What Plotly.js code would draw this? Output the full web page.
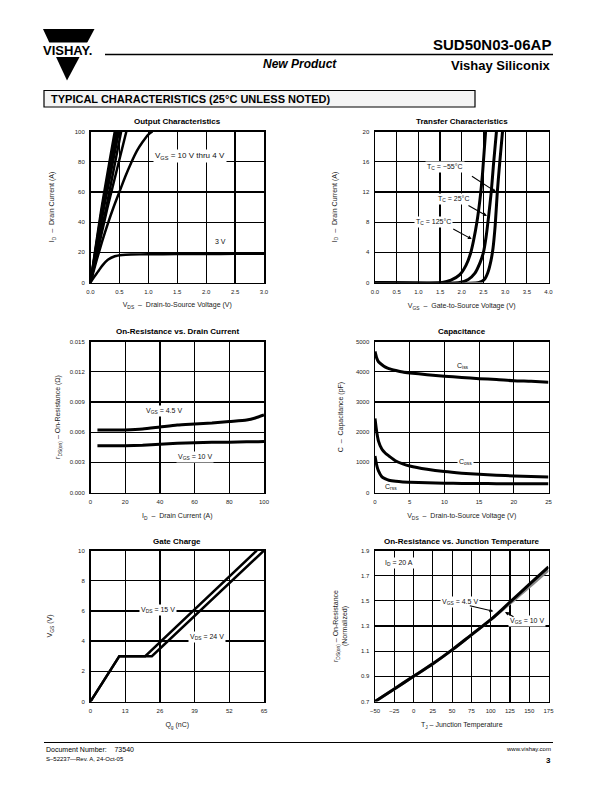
<!DOCTYPE html>
<html>
<head>
<meta charset="utf-8">
<script src="https://cdn.plot.ly/plotly-3.0.1.min.js"></script>
<style>html,body{margin:0;padding:0;background:#fff}#chart{width:612px;height:792px}</style>
</head>
<body>
<div id="chart"></div>
<script>
// ---------- Data ----------
// Output Characteristics
const vds10 = [0, 0.19, 0.42];             const id10 = [0, 49, 100];
const vds8  = [0, 0.20, 0.44];             const id8  = [0, 49, 100];
const vds7  = [0, 0.21, 0.46];             const id7  = [0, 49, 100];
const vds6  = [0, 0.23, 0.49];             const id6  = [0, 49, 100];
const vds5  = [0, 0.27, 0.53];             const id5  = [0, 49, 100];
const vds45 = [0, 0.29, 0.62];             const id45 = [0, 49, 100];
const vds4  = [0, 0.1, 0.2, 0.3, 0.4, 0.5, 0.6, 0.7, 0.8, 0.9, 1.0, 1.07];
const id4   = [0, 14, 27, 39, 50, 60, 70, 79, 87, 93, 98, 100];
const vds3  = [0, 0.05, 0.13, 0.2, 0.3, 0.42, 0.55, 0.7, 1.0, 1.5, 2.0, 2.5, 3.0];
const id3   = [0, 3, 7.2, 11, 15, 17.4, 18.2, 18.5, 18.7, 18.8, 18.9, 19.0, 19.1];

// Transfer Characteristics
const vgs125 = [0, 1.55, 1.75, 1.95, 2.1, 2.2, 2.27, 2.35, 2.42, 2.48, 2.55];
const idT125 = [0, 0, 0.3, 1.0, 2.3, 3.8, 5.5, 8, 11, 14.5, 20];
const vgs25  = [0, 1.95, 2.15, 2.3, 2.42, 2.5, 2.56, 2.62, 2.68, 2.73, 2.8];
const idT25  = [0, 0, 0.4, 1.2, 2.6, 4, 6, 8.8, 12, 15.5, 20];
const vgsM55 = [0, 2.4, 2.52, 2.6, 2.67, 2.72, 2.77, 2.82, 2.87, 2.94];
const idTM55 = [0, 0, 0.4, 1.3, 2.8, 4.5, 7.5, 12, 15.5, 20];

// On-Resistance vs. Drain Current
const idR    = [4, 10, 20, 30, 40, 50, 60, 70, 80, 90, 95, 100];
const rds45  = [0.0062, 0.0062, 0.00622, 0.0063, 0.0065, 0.0067, 0.0068, 0.0069, 0.00705, 0.0072, 0.0074, 0.0077];
const rds10  = [0.00465, 0.00465, 0.00465, 0.0047, 0.0048, 0.0049, 0.00495, 0.005, 0.005, 0.00505, 0.00505, 0.00507];

// Capacitance
const vdsC = [0, 0.25, 0.5, 1, 1.5, 2, 3, 4, 5, 7.5, 10, 12.5, 15, 17.5, 20, 22.5, 25];
const ciss = [4670, 4450, 4330, 4230, 4150, 4100, 4040, 3990, 3960, 3900, 3850, 3810, 3770, 3740, 3700, 3680, 3650];
const coss = [2450, 2000, 1700, 1430, 1300, 1210, 1044, 950, 880, 770, 692, 640, 604, 575, 549, 530, 516];
const crss = [1210, 900, 714, 516, 450, 407, 370, 350, 340, 320, 308, 302, 297, 292, 289, 287, 286];

// Gate Charge
const qg15 = [0, 10.8, 20.5, 62.3];  const vg15 = [0, 3, 3, 10];
const qg24 = [0, 10.8, 23.0, 65.0];  const vg24 = [0, 3, 3, 10];

// On-Resistance vs. Junction Temperature
const tj    = [-50, -25, 0, 25, 50, 75, 100, 125, 150, 175];
const rn45  = [0.70, 0.80, 0.90, 1.00, 1.11, 1.23, 1.35, 1.49, 1.63, 1.77];
const rn10  = [0.70, 0.80, 0.90, 1.00, 1.11, 1.23, 1.35, 1.48, 1.61, 1.745];

// ---------- Layout helpers ----------
const W = 612, H = 792;
const FONT = 'Liberation Sans, Arial, Helvetica, sans-serif';
const px = x => x / W;
const py = y => 1 - y / H;
const colL = [90.5, 264], colR = [375, 548.5];
const rows = [[131.5, 282.5], [341.5, 492.5], [550.5, 701.5]];
const dx = c => [px(c[0]), px(c[1])];
const dy = r => [py(r[1]), py(r[0])];

function ax(extra, titleText, standoff) {
  return Object.assign({
    showline: true, linecolor: '#000', linewidth: 1.5, mirror: true,
    showgrid: true, gridcolor: '#000', gridwidth: 1.2, zeroline: false,
    ticks: 'outside', ticklen: 3, tickcolor: 'rgba(0,0,0,0)',
    tickfont: {family: FONT, size: 6, color: '#222'},
    fixedrange: true,
    title: {text: titleText, font: {family: FONT, size: 7, color: '#222'}, standoff: standoff}
  }, extra);
}

const blk = (w) => ({color: '#000', width: w || 2.5, shape: 'spline', smoothing: 0.6});
function tr(x, y, xa, ya, line) {
  return {x: x, y: y, xaxis: xa, yaxis: ya, mode: 'lines', line: line || blk(), showlegend: false, hoverinfo: 'skip'};
}

const data = [
  tr(vds10, id10, 'x', 'y'), tr(vds8, id8, 'x', 'y'), tr(vds7, id7, 'x', 'y'),
  tr(vds6, id6, 'x', 'y'), tr(vds5, id5, 'x', 'y'), tr(vds45, id45, 'x', 'y'),
  tr(vds4, id4, 'x', 'y'), tr(vds3, id3, 'x', 'y'),
  tr(vgs125, idT125, 'x2', 'y2', blk(3)), tr(vgs25, idT25, 'x2', 'y2', blk(3)), tr(vgsM55, idTM55, 'x2', 'y2', blk(3)),
  tr(idR, rds45, 'x3', 'y3', blk(3)), tr(idR, rds10, 'x3', 'y3', blk(3)),
  tr(vdsC, ciss, 'x4', 'y4', blk(3)), tr(vdsC, coss, 'x4', 'y4', blk(3)), tr(vdsC, crss, 'x4', 'y4', blk(3)),
  tr(qg15, vg15, 'x5', 'y5', {color: '#000', width: 2.5}), tr(qg24, vg24, 'x5', 'y5', {color: '#000', width: 2.5}),
  tr(tj, rn10, 'x6', 'y6', {color: '#888', width: 3, shape: 'spline'}),
  tr(tj, rn45, 'x6', 'y6', {color: '#000', width: 3, shape: 'spline'})
];

function txt(x, y, text, opts) {
  return Object.assign({x: x, y: y, text: text, showarrow: false,
    font: {family: FONT, size: 7, color: '#111'}}, opts || {});
}
function inPlot(xr, yr, x, y, text, bg, size) {
  return txt(x, y, text, {xref: xr, yref: yr, bgcolor: bg ? '#fff' : 'rgba(0,0,0,0)', borderpad: 1,
    font: {family: FONT, size: size || 7, color: '#111'}});
}
function arrow(xr, yr, x, y, axv, ayv) {
  return {xref: xr, yref: yr, axref: xr, ayref: yr, x: x, y: y, ax: axv, ay: ayv, text: '',
    showarrow: true, arrowhead: 2, arrowsize: 0.7, arrowwidth: 1.1, arrowcolor: '#000', standoff: 0, startstandoff: 0};
}
function paperTxt(x, y, text, size, opts) {
  return Object.assign({xref: 'paper', yref: 'paper', x: px(x), y: py(y), text: text, showarrow: false,
    font: {family: FONT, size: size, color: '#000'}}, opts || {});
}
function plotTitle(col, row, text) {
  return paperTxt((col[0] + col[1]) / 2, row[0] - 9.5, '<b>' + text + '</b>', 8, {xanchor: 'center', yanchor: 'middle'});
}

const NB = '\u00a0';
const annotations = [
  // Header
  paperTxt(67, 50, '<b>VISHAY.</b>', 13, {xanchor: 'center', yanchor: 'middle'}),
  paperTxt(553, 44, '<b>SUD50N03-06AP</b>', 15, {xanchor: 'right', yanchor: 'middle'}),
  paperTxt(300, 64, '<b><i>New Product</i></b>', 12, {xanchor: 'center', yanchor: 'middle'}),
  paperTxt(553, 65, '<b>Vishay Siliconix</b>', 13, {xanchor: 'right', yanchor: 'middle'}),
  paperTxt(49, 99, '<b>TYPICAL CHARACTERISTICS (25°C UNLESS NOTED)</b>', 11, {xanchor: 'left', yanchor: 'middle'}),
  // Footer
  paperTxt(44, 749, 'Document Number:' + NB + NB + NB + NB + '73540', 7, {xanchor: 'left', yanchor: 'middle'}),
  paperTxt(44, 759, 'S–52237—Rev. A, 24-Oct-05', 6, {xanchor: 'left', yanchor: 'middle'}),
  paperTxt(553, 749, 'www.vishay.com', 6, {xanchor: 'right', yanchor: 'middle'}),
  paperTxt(553, 760, '<b>3</b>', 8, {xanchor: 'right', yanchor: 'middle'}),
  // Plot titles
  plotTitle(colL, rows[0], 'Output Characteristics'),
  plotTitle(colR, rows[0], 'Transfer Characteristics'),
  plotTitle(colL, rows[1], 'On-Resistance vs. Drain Current'),
  plotTitle(colR, rows[1], 'Capacitance'),
  plotTitle(colL, rows[2], 'Gate Charge'),
  plotTitle(colR, rows[2], 'On-Resistance vs. Junction Temperature'),
  // Plot 1 labels
  inPlot('x', 'y', 1.72, 84, 'V<sub>GS</sub> = 10 V thru 4 V', true, 8),
  inPlot('x', 'y', 2.24, 27, '3 V', true),
  // Plot 2 labels
  inPlot('x2', 'y2', 1.62, 15.3, 'T<sub>C</sub> = −55°C', true),
  arrow('x2', 'y2', 2.79, 12.0, 2.20, 14.2),
  inPlot('x2', 'y2', 1.80, 11.1, 'T<sub>C</sub> = 25°C', true),
  arrow('x2', 'y2', 2.58, 8.8, 2.12, 10.3),
  inPlot('x2', 'y2', 1.35, 8.07, 'T<sub>C</sub> = 125°C', true),
  arrow('x2', 'y2', 2.23, 5.75, 1.77, 7.2),
  // Plot 3 labels
  inPlot('x3', 'y3', 42.2, 0.00813, 'V<sub>GS</sub> = 4.5 V', true),
  inPlot('x3', 'y3', 60.5, 0.00356, 'V<sub>GS</sub> = 10 V', true),
  // Plot 4 labels
  inPlot('x4', 'y4', 12.7, 4198, 'C<sub>iss</sub>', false),
  inPlot('x4', 'y4', 12.97, 1016, 'C<sub>oss</sub>', true),
  inPlot('x4', 'y4', 2.26, 191, 'C<sub>rss</sub>', false),
  // Plot 5 labels
  inPlot('x5', 'y5', 25.4, 6.07, 'V<sub>DS</sub> = 15 V', true),
  inPlot('x5', 'y5', 43.5, 4.27, 'V<sub>DS</sub> = 24 V', true),
  // Plot 6 labels
  txt(-39.2, 1.80, 'I<sub>D</sub> = 20 A', {xref: 'x6', yref: 'y6', xanchor: 'left', bgcolor: '#fff', borderpad: 1}),
  inPlot('x6', 'y6', 60.2, 1.49, 'V<sub>GS</sub> = 4.5 V', true),
  arrow('x6', 'y6', 103.4, 1.417, 71, 1.464),
  inPlot('x6', 'y6', 146.7, 1.34, 'V<sub>GS</sub> = 10 V', true),
  arrow('x6', 'y6', 118.6, 1.411, 131.6, 1.367)
];

const shapes = [
  // Logo triangle + white band for the name
  {type: 'path', xref: 'paper', yref: 'paper',
   path: `M ${px(43)},${py(29)} L ${px(94.5)},${py(29)} L ${px(67)},${py(80.5)} Z`,
   fillcolor: '#000', line: {width: 0}},
  {type: 'rect', xref: 'paper', yref: 'paper', x0: px(38), x1: px(99), y0: py(57), y1: py(42.5),
   fillcolor: '#fff', line: {width: 0}},
  // Header rule
  {type: 'line', xref: 'paper', yref: 'paper', x0: px(105), x1: px(553), y0: py(54.5), y1: py(54.5),
   line: {color: '#000', width: 1.3}},
  // Section box
  {type: 'rect', xref: 'paper', yref: 'paper', x0: px(44), x1: px(475), y0: py(107), y1: py(90.5),
   fillcolor: '#f4f4f4', line: {color: '#000', width: 1.2}},
  // Footer rule
  {type: 'line', xref: 'paper', yref: 'paper', x0: px(44), x1: px(553), y0: py(742.5), y1: py(742.5),
   line: {color: '#000', width: 1}}
];

const layout = {
  width: W, height: H, margin: {l: 0, r: 0, t: 0, b: 0},
  paper_bgcolor: '#fff', plot_bgcolor: '#fff', showlegend: false,
  font: {family: FONT, color: '#000', size: 7},
  xaxis:  ax({domain: dx(colL), anchor: 'y',  range: [0, 3],   dtick: 0.5, tick0: 0, tickformat: '.1f'}, 'V<sub>DS</sub>  –  Drain-to-Source Voltage (V)', 8),
  yaxis:  ax({domain: dy(rows[0]), anchor: 'x',  range: [0, 100], dtick: 20, tick0: 0}, 'I<sub>D</sub>  –  Drain Current (A)', 19),
  xaxis2: ax({domain: dx(colR), anchor: 'y2', range: [0, 4],   dtick: 0.5, tick0: 0, tickformat: '.1f'}, 'V<sub>GS</sub>  –  Gate-to-Source Voltage (V)', 9),
  yaxis2: ax({domain: dy(rows[0]), anchor: 'x2', range: [0, 20], dtick: 4, tick0: 0}, 'I<sub>D</sub>  –  Drain Current (A)', 24),
  xaxis3: ax({domain: dx(colL), anchor: 'y3', range: [0, 100], dtick: 20, tick0: 0}, 'I<sub>D</sub>  –  Drain Current (A)', 9),
  yaxis3: ax({domain: dy(rows[1]), anchor: 'x3', range: [0, 0.015], dtick: 0.003, tick0: 0, tickformat: '.3f'}, 'r<sub>DS(on)</sub> – On-Resistance (Ω)', 8),
  xaxis4: ax({domain: dx(colR), anchor: 'y4', range: [0, 25],  dtick: 5, tick0: 0}, 'V<sub>DS</sub>  –  Drain-to-Source Voltage (V)', 9),
  yaxis4: ax({domain: dy(rows[1]), anchor: 'x4', range: [0, 5000], dtick: 1000, tick0: 0, tickformat: 'd'}, 'C  –  Capacitance (pF)', 11),
  xaxis5: ax({domain: dx(colL), anchor: 'y5', range: [0, 65],  dtick: 13, tick0: 0}, 'Q<sub>g</sub> (nC)', 9),
  yaxis5: ax({domain: dy(rows[2]), anchor: 'x5', range: [0, 10], dtick: 2, tick0: 0}, 'V<sub>GS</sub> (V)', 24),
  xaxis6: ax({domain: dx(colR), anchor: 'y6', range: [-50, 175], dtick: 25, tick0: -50}, 'T<sub>J</sub> – Junction Temperature', 9),
  yaxis6: ax({domain: dy(rows[2]), anchor: 'x6', range: [0.7, 1.9], dtick: 0.2, tick0: 0.7, tickformat: '.1f'}, 'r<sub>DS(on)</sub> – On-Resistance<br>(Normalized)', 12),
  annotations: annotations,
  shapes: shapes
};

Plotly.newPlot('chart', data, layout, {displayModeBar: false, staticPlot: true});
</script>
</body>
</html>
